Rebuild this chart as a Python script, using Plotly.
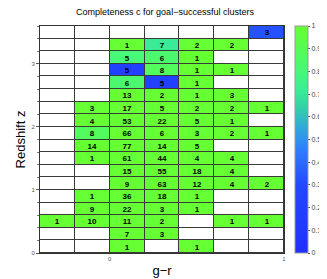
import plotly.graph_objects as go

# bin centres
x_centers = [-0.3, -0.1, 0.1, 0.3, 0.5, 0.7, 0.9]
y_centers = [0.1, 0.3, 0.5, 0.7, 0.9, 1.1, 1.3, 1.5, 1.7, 1.9,
             2.1, 2.3, 2.5, 2.7, 2.9, 3.1, 3.3, 3.5]

N = None
# counts per cell, rows from bottom (z=0.0-0.2) to top (z=3.4-3.6)
counts = [
    [N, N, 1, N, 1, N, N],
    [N, N, 7, 3, N, N, N],
    [1, 10, 11, 2, N, 1, 1],
    [N, 9, 22, 3, 1, N, N],
    [N, 1, 36, 18, 1, N, N],
    [N, N, 9, 63, 12, 4, 2],
    [N, N, 15, 55, 18, 4, N],
    [N, 1, 61, 44, 4, 4, N],
    [N, 14, 77, 14, 5, N, N],
    [N, 8, 66, 6, 3, 2, 1],
    [N, 4, 53, 22, 5, 1, N],
    [N, 3, 17, 5, 2, 2, 1],
    [N, N, 13, 2, 1, 3, N],
    [N, N, 6, 5, 1, N, N],
    [N, N, 5, 8, 1, 1, N],
    [N, N, 5, 6, 1, N, N],
    [N, N, 1, 7, 2, 2, N],
    [N, N, N, N, N, N, 3],
]
# completeness per cell (colour)
completeness = [
    [N, N, 1, N, 1, N, N],
    [N, N, 1, 1, N, N, N],
    [1, 1, 1, 1, N, 1, 1],
    [N, 1, 1, 1, 1, N, N],
    [N, 1, 1, 1, 1, N, N],
    [N, N, 1, 1, 1, 1, 1],
    [N, N, 1, 1, 1, 1, N],
    [N, 1, 1, 1, 1, 1, N],
    [N, 1, 1, 1, 1, N, N],
    [N, 0.875, 1, 1, 1, 1, 1],
    [N, 1, 1, 1, 1, 1, N],
    [N, 1, 1, 1, 1, 1, 1],
    [N, N, 1, 1, 1, 1, N],
    [N, N, 0.83, 0.2, 1, N, N],
    [N, N, 0.2, 0.875, 1, 1, N],
    [N, N, 0.8, 0.83, 1, N, N],
    [N, N, 1, 0.71, 1, 1, N],
    [N, N, N, N, N, N, 0.33],
]

x_tick_vals = [0, 1]
y_tick_vals = [0, 1, 2, 3]
cbar_ticks = [0, 0.1, 0.2, 0.3, 0.4, 0.5, 0.6, 0.7, 0.8, 0.9, 1]

text = [["" if v is None else str(v) for v in row] for row in counts]
blank = [[0 for _ in row] for row in counts]

colorscale = [
    [0.0, "#1f30ff"],
    [0.3, "#2248ff"],
    [0.45, "#2e7cff"],
    [0.55, "#30a8dc"],
    [0.65, "#36d4a4"],
    [0.72, "#3aee94"],
    [0.8, "#48f878"],
    [0.9, "#55fc55"],
    [1.0, "#66ff33"],
]

fig = go.Figure()
fig.add_trace(go.Heatmap(
    x=x_centers, y=y_centers, z=blank,
    colorscale=[[0, "white"], [1, "white"]], showscale=False,
    xgap=1, ygap=1, hoverinfo="skip",
))
fig.add_trace(go.Heatmap(
    x=x_centers, y=y_centers, z=completeness,
    text=text, texttemplate="%{text}",
    textfont=dict(family="Liberation Sans", size=8, color="black", weight="bold"),
    colorscale=colorscale, zmin=0, zmax=1,
    xgap=1, ygap=1,
    colorbar=dict(
        x=1.046, xanchor="left", xpad=0, y=0.5, len=1, lenmode="fraction",
        thickness=13, outlinewidth=1, outlinecolor="#999",
        tickvals=cbar_ticks, ticks="outside", ticklen=2, tickcolor="#555",
        tickfont=dict(family="Liberation Sans", size=7, color="#444"),
        ypad=0,
    ),
))

fig.update_layout(
    width=327, height=279,
    margin=dict(l=26, r=39, t=18, b=25),
    plot_bgcolor="#3a3a3a", paper_bgcolor="white",
    title=dict(text="Completeness c for goal\u2212successful clusters",
               x=157 / 327, xanchor="center", yref="container", y=1.0, yanchor="top",
               pad=dict(t=1, b=0),
               font=dict(family="Liberation Sans", size=9, color="black")),
    xaxis=dict(range=[-0.4, 1.0], tickvals=x_tick_vals, showgrid=False, zeroline=False,
               showline=True, linecolor="#333", linewidth=1, mirror=True,
               ticks="", tickfont=dict(family="Liberation Sans", size=6, color="#555"),
               title=dict(text="g\u2212r", standoff=4,
                          font=dict(family="Liberation Sans", size=13, color="black"))),
    yaxis=dict(range=[0, 3.6], tickvals=y_tick_vals, showgrid=False, zeroline=False,
               showline=True, linecolor="#333", linewidth=1, mirror=True,
               ticks="outside", ticklen=3, tickcolor="#555",
               minor=dict(dtick=0.2, ticks="outside", ticklen=2, tickcolor="#777"),
               tickfont=dict(family="Liberation Sans", size=6, color="#555"),
               title=dict(text="Redshift z", standoff=2,
                          font=dict(family="Liberation Sans", size=13, color="black"))),
)

fig.write_html("out.html")
